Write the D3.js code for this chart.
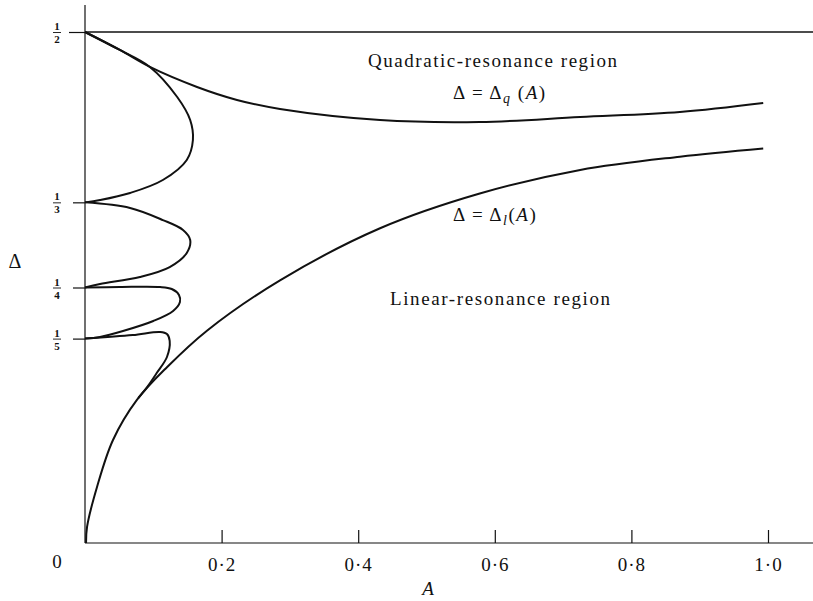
<!DOCTYPE html>
<html>
<head>
<meta charset="utf-8">
<script src="https://cdn.jsdelivr.net/npm/d3@7"></script>
<style>
  body { margin: 0; background: #fff; }
  text { font-family: "Liberation Serif", "Times New Roman", serif; fill: #111; }
</style>
</head>
<body>
<svg id="chart"></svg>
<script>
// tick values and labels
var aTicks = [0.2, 0.4, 0.6, 0.8, 1.0];
var aTickLabels = ["0·2", "0·4", "0·6", "0·8", "1·0"];
var deltaTicks = [[1, 2], [1, 3], [1, 4], [1, 5]];

// curves, points are [A, Delta]
var qCurve = [[0, 0.5], [0.051, 0.4824], [0.095, 0.4658], [0.164, 0.4462], [0.2225, 0.4335],
  [0.2855, 0.4247], [0.432, 0.4139], [0.578, 0.412], [0.725, 0.4168], [0.871, 0.4217], [0.993, 0.4305]];
var lCurve = [[0.0015, 0], [0.003, 0.0157], [0.0176, 0.0548], [0.041, 0.1008], [0.076, 0.14],
  [0.12, 0.172], [0.179, 0.208], [0.2855, 0.257], [0.432, 0.308], [0.578, 0.342],
  [0.725, 0.365], [0.871, 0.378], [0.993, 0.386]];
var loop1 = [[0, 0.3333], [0.022, 0.3356], [0.066, 0.3425], [0.114, 0.3552], [0.149, 0.3748],
  [0.158, 0.3943], [0.154, 0.4139], [0.135, 0.4364], [0.095, 0.4658], [0.051, 0.4824], [0, 0.5]];
var loop2 = [[0, 0.3333], [0.066, 0.3278], [0.114, 0.316], [0.1435, 0.3063], [0.154, 0.2965],
  [0.149, 0.2838], [0.124, 0.27], [0.0805, 0.2603], [0.022, 0.2534], [0, 0.25]];
var loop3 = [[0, 0.25], [0.051, 0.2505], [0.11, 0.2505], [0.127, 0.2485], [0.1376, 0.2427],
  [0.139, 0.2358], [0.129, 0.227], [0.1, 0.2172], [0.0556, 0.2074], [0.022, 0.2016], [0, 0.2]];
var loop4 = [[0, 0.2], [0.07, 0.2035], [0.11, 0.2065], [0.12, 0.2045], [0.124, 0.1977],
  [0.12, 0.182], [0.105, 0.1663], [0.091, 0.1526], [0.078, 0.1419]];

var W = 813, H = 601;
var svg = d3.select("#chart").attr("width", W).attr("height", H);

var x = d3.scaleLinear().domain([0, 1]).range([85, 768]);
var y = d3.scaleLinear().domain([0, 0.5]).range([543, 32]);

// x axis, ticks pointing up
var xAxis = svg.append("g")
  .attr("transform", "translate(0," + y(0) + ")")
  .call(d3.axisBottom(x).tickValues(aTicks).tickSizeInner(-13).tickSizeOuter(0).tickPadding(11)
    .tickFormat(function (d, i) { return aTickLabels[i]; }));
xAxis.select(".domain").remove();
xAxis.selectAll("line").attr("stroke", "#111").attr("stroke-width", 1.2);
xAxis.selectAll("text").style("font-size", "19px").style("letter-spacing", "1px")
  .attr("dy", "0.9em").attr("fill", "#111");
svg.append("line").attr("x1", x(0)).attr("x2", W).attr("y1", y(0)).attr("y2", y(0))
  .attr("stroke", "#111").attr("stroke-width", 1.2);

// y axis with fraction labels
var yAxis = svg.append("g")
  .attr("transform", "translate(" + x(0) + ",0)")
  .call(d3.axisLeft(y).tickValues(deltaTicks.map(function (f) { return f[0] / f[1]; }))
    .tickSize(12).tickFormat(""));
yAxis.select(".domain").remove();
yAxis.selectAll("line").attr("stroke", "#111").attr("stroke-width", 1.2)
  .attr("x2", function (d) { return d === 0.5 ? -16 : -12; });
svg.append("line").attr("x1", x(0)).attr("x2", x(0)).attr("y1", y(0)).attr("y2", 5)
  .attr("stroke", "#111").attr("stroke-width", 1.2);

yAxis.selectAll(".tick").each(function (d, i) {
  var g = d3.select(this);
  var f = deltaTicks[i];
  g.append("text").attr("x", -28).attr("y", -2.5).attr("text-anchor", "middle")
    .style("font-size", "11px").style("font-weight", "bold").text(f[0]);
  g.append("line").attr("x1", -32).attr("x2", -24).attr("y1", 0).attr("y2", 0)
    .attr("stroke", "#111").attr("stroke-width", 0.9);
  g.append("text").attr("x", -28).attr("y", 10.5).attr("text-anchor", "middle")
    .style("font-size", "11px").style("font-weight", "bold").text(f[1]);
});

// line at Delta = 1/2
svg.append("line").attr("x1", x(0)).attr("x2", W).attr("y1", y(0.5)).attr("y2", y(0.5))
  .attr("stroke", "#111").attr("stroke-width", 1.3);

// curves
var line = d3.line()
  .x(function (d) { return x(d[0]); })
  .y(function (d) { return y(d[1]); })
  .curve(d3.curveCatmullRom.alpha(0.5));

svg.selectAll("path.curve")
  .data([qCurve, lCurve, loop1, loop2, loop3, loop4])
  .enter()
  .append("path")
  .attr("class", "curve")
  .attr("d", line)
  .attr("fill", "none")
  .attr("stroke", "#111")
  .attr("stroke-width", 2);

// axis labels
svg.append("text").attr("x", 57).attr("y", 568).attr("text-anchor", "middle")
  .style("font-size", "19px").text("0");
svg.append("text").attr("x", 428).attr("y", 595).attr("text-anchor", "middle")
  .style("font-size", "19px").style("font-style", "italic").text("A");
svg.append("text").attr("x", 15).attr("y", 268).attr("text-anchor", "middle")
  .style("font-size", "20px").text("Δ");

// region labels
svg.append("text").attr("x", 368).attr("y", 67).style("font-size", "19px")
  .attr("textLength", 249).attr("lengthAdjust", "spacing").text("Quadratic-resonance region");
svg.append("text").attr("x", 390).attr("y", 305).style("font-size", "19px")
  .attr("textLength", 220).attr("lengthAdjust", "spacing").text("Linear-resonance region");

// curve labels
function curveLabel(px, py, sub) {
  var t = svg.append("text").attr("x", px).attr("y", py)
    .style("font-size", "19px").style("letter-spacing", "1.5px");
  t.append("tspan").text("Δ = Δ");
  t.append("tspan").attr("dy", 4).style("font-size", "14px").style("font-style", "italic").text(sub);
  t.append("tspan").attr("dy", -4).text(sub === "q" ? " (" : "(");
  t.append("tspan").style("font-style", "italic").text("A");
  t.append("tspan").text(")");
}
curveLabel(453, 99, "q");
curveLabel(453, 221, "l");
</script>
</body>
</html>
